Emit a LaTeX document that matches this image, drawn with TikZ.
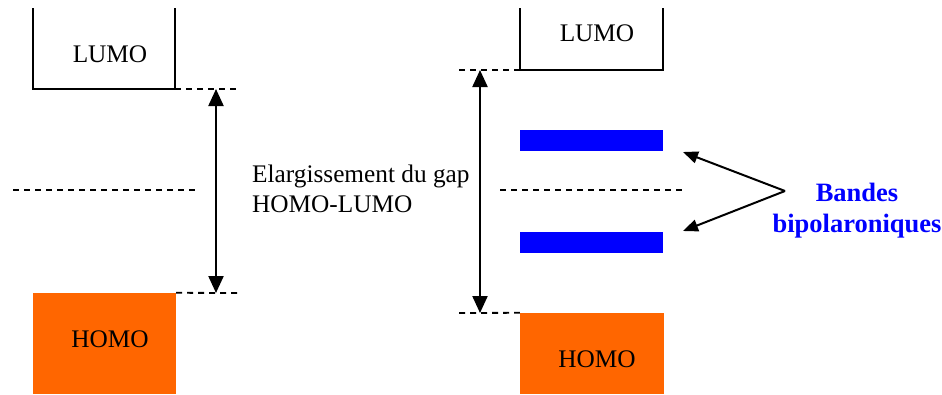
\documentclass[tikz,border=0pt]{standalone}
\usepackage{fontspec}
\setmainfont{Liberation Serif}
\usetikzlibrary{arrows.meta}
\definecolor{homoorange}{HTML}{FF6600}
\definecolor{bandblue}{HTML}{0000FF}
\begin{document}
\begin{tikzpicture}[x=1pt,y=-1pt,
  txt/.style={font=\fontsize{25.3}{30}\selectfont, inner sep=0pt},
  lvl/.style={line width=1.8pt, dash pattern=on 6pt off 5pt},
  boxline/.style={line width=2pt},
  gaparrow/.style={line width=2.2pt, {Triangle[length=17pt,width=15pt]}-{Triangle[length=17pt,width=15pt]}},
  ptr/.style={line width=2pt, -{Triangle[length=15pt,width=12pt]}},
  band/.style={fill=bandblue, draw=none, inner sep=0pt, minimum width=143pt, minimum height=21pt},
  homo/.style={fill=homoorange, draw=none, inner sep=0pt}
]
\useasboundingbox (0,0) rectangle (942,394);
% left LUMO (open top)
\coordinate (lLtl) at (33,8);
\coordinate (lLbl) at (33,89);
\coordinate (lLbr) at (175,89);
\coordinate (lLtr) at (175,8);
\draw[boxline] (lLtl) -- (lLbl) -- (lLbr) -- (lLtr);
\node[txt] (lumoL) at (110,54) {LUMO};
% left HOMO
\node[homo, minimum width=143pt, minimum height=101pt] (homoLbox) at (104.5,343.5) {};
\node[txt] (homoL) at (110,339) {HOMO};
% left dashed lines
\coordinate (lTopEnd) at (237,89);
\coordinate (lBotEnd) at (237,293);
\draw[lvl] (lLbr) -- (lTopEnd);
\draw[lvl] (homoLbox.north east) -- (lBotEnd);
\coordinate (lMidA) at (13,190);
\coordinate (lMidB) at (197,190);
\draw[lvl] (lMidA) -- (lMidB);
% left gap arrow
\coordinate (lArrT) at (216,89);
\coordinate (lArrB) at (216,293);
\draw[gaparrow] (lArrT) -- (lArrB);
% label
\node[txt, anchor=west, align=left] (gaplabel) at (252,189) {Elargissement du gap\\HOMO-LUMO};
% right LUMO (open top)
\coordinate (rLtl) at (520,8);
\coordinate (rLbl) at (520,70);
\coordinate (rLbr) at (663,70);
\coordinate (rLtr) at (663,8);
\draw[boxline] (rLtl) -- (rLbl) -- (rLbr) -- (rLtr);
\node[txt] (lumoR) at (597,33) {LUMO};
% right HOMO
\node[homo, minimum width=144pt, minimum height=81pt] (homoRbox) at (592,353.5) {};
\node[txt] (homoR) at (597,359) {HOMO};
% right dashed lines
\coordinate (rTopStart) at (459,70);
\coordinate (rBotStart) at (459,313);
\draw[lvl] (rTopStart) -- (rLbl);
\draw[lvl] (rBotStart) -- (homoRbox.north west);
\coordinate (rMidA) at (500,190);
\coordinate (rMidB) at (685,190);
\draw[lvl] (rMidA) -- (rMidB);
% right gap arrow
\coordinate (rArrT) at (480,70);
\coordinate (rArrB) at (480,313);
\draw[gaparrow] (rArrT) -- (rArrB);
% bipolaron bands
\node[band] (band1) at (591.5,140.5) {};
\node[band] (band2) at (591.5,242) {};
% pointers
\coordinate (apex) at (785,191);
\coordinate (tip1) at (683,152);
\coordinate (tip2) at (683,231);
\draw[ptr] (apex) -- (tip1);
\draw[ptr] (apex) -- (tip2);
\node[txt, font=\fontsize{26.5}{31}\selectfont\bfseries, text=bandblue, align=center] (bandes) at (857,211) {Bandes\\bipolaroniques};
\end{tikzpicture}
\end{document}
